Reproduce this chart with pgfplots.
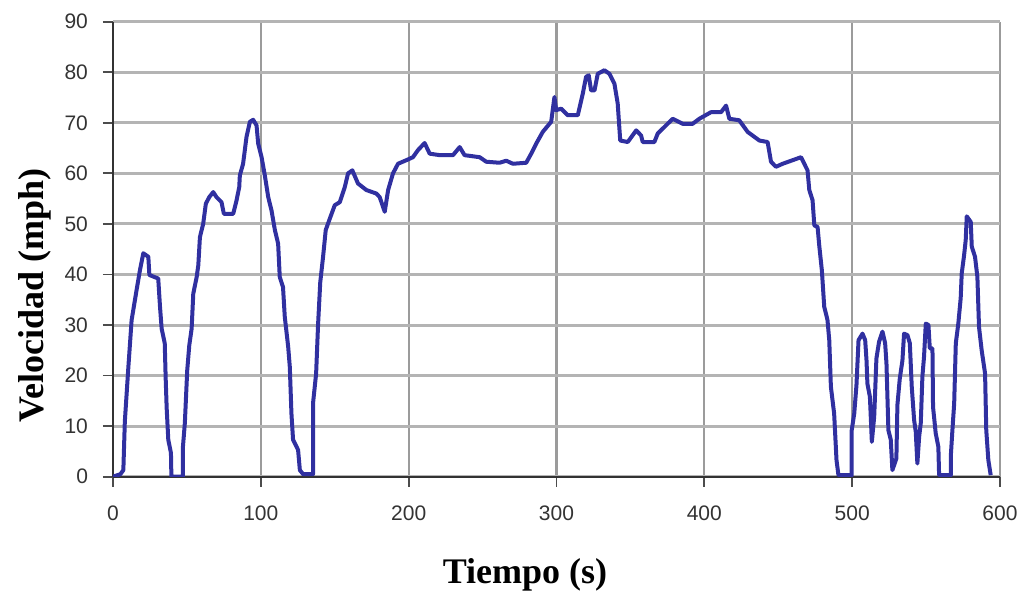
\documentclass[border=0pt]{standalone}
\usepackage{pgfplots}
\pgfplotsset{compat=1.18}
\usepackage{fontspec}
\setmainfont{Liberation Serif}
\newfontfamily\arial{Liberation Sans}
\definecolor{linecol}{RGB}{48,48,160}
\definecolor{hgridcol}{RGB}{180,180,180}
\definecolor{vgridcol}{RGB}{155,155,155}
\begin{document}
\begin{tikzpicture}
\begin{axis}[
  at={(0,0)}, anchor=south west,
  scale only axis,
  width=443.5pt, height=227.5pt,
  xmin=0, xmax=600, ymin=0, ymax=90,
  xtick={0,100,...,600}, ytick={0,10,...,90},
  axis lines=left,
  axis line style={-, black!80, line width=1.1pt},
  tick align=outside,
  major tick length=5pt,
  tick style={black!70, line width=0.9pt},
  grid=major,
  major x grid style={vgridcol, line width=1.1pt},
  major y grid style={hgridcol, line width=1.5pt},
  /pgf/number format/assume math mode=true,
  ticklabel style={font=\arial\fontsize{10.5}{12}\selectfont, text=black!80},
  yticklabel style={xshift=-4pt},
  xticklabel style={yshift=-6pt},
  xlabel={\bfseries Tiempo (s)},
  ylabel={\bfseries Velocidad (mph)},
  label style={font=\fontsize{18}{20}\selectfont},
  xlabel style={at={(axis description cs:0.4645,-0.216)}, anchor=center},
  ylabel style={at={(axis description cs:-0.0879,0.399)}, anchor=center, rotate=0},
]
\addplot[linecol, line width=2pt, line join=round] coordinates {
(0,0) (5,0.5) (7,1.3) (8,10.9) (10.4,21.7) (12.6,31) (16,37) (18.2,40.8) (20.5,44.2) (23.9,43.5) (24.6,39.9) (30.6,39.2) (31.8,33.6) (32.9,29.3) (35,26.4) (35.6,19.8) (36.3,13.6) (37.4,7.3) (39.2,4.7) (39.5,0) (47.2,0) (47.3,5.9) (48.6,10.6) (50.2,21) (51.6,26) (53.2,29.3) (54.3,36.2) (56.6,39.5) (57.7,41.8) (58.8,47.4) (61,50) (62.8,54) (65.1,55.3) (67.8,56.3) (70,55.3) (73.4,54.3) (75,52) (81.3,52) (83.6,54.7) (85.4,57.3) (85.8,59.6) (88,61.9) (90.3,67.2) (92.6,70.2) (94.8,70.6) (97.1,69.5) (98.2,65.9) (100.5,63.2) (102.7,59.6) (105,55.3) (107.2,52.7) (109.5,48.8) (111.7,46.1) (112.8,39.5) (115,37.5) (116.2,31.6) (118.5,25.7) (119.6,21.7) (120.7,12.5) (121.8,7.3) (125.2,5.3) (126.4,1.3) (128.6,0.5) (135.3,0.5) (135.3,14.5) (137.4,20.4) (138.7,30) (140.2,38.5) (142.1,43.5) (143.9,48.8) (147.1,51.4) (150,53.7) (153.4,54.3) (156.8,57.3) (159,60) (161.9,60.6) (165.7,58) (171.4,56.7) (178.2,56) (180.4,55.3) (183.8,52.4) (186.1,56.7) (189.4,60) (192.8,61.9) (198.4,62.6) (202.9,63.2) (206.3,64.6) (210.8,66) (214.2,63.9) (221,63.6) (230,63.6) (234.5,65.2) (237.8,63.6) (248,63.2) (252.5,62.3) (261.5,62.1) (266,62.5) (270.5,61.9) (279.5,62.1) (282.9,63.9) (286.3,65.9) (290.7,68.2) (296.4,70.2) (298.6,75.1) (299.8,72.5) (303.2,72.8) (307.6,71.5) (314.4,71.5) (317.8,75.8) (320,79.1) (321.8,79.4) (323.4,76.4) (325.7,76.4) (327.9,79.7) (332.4,80.4) (335.8,79.7) (339.2,77.7) (341.4,73.8) (343.1,66.5) (348.2,66.2) (353.9,68.5) (357.2,67.5) (358.3,66.2) (366.2,66.2) (368.5,67.9) (374.1,69.5) (378.6,70.8) (385.4,69.8) (392.1,69.8) (396.6,70.8) (404.5,72.1) (411.3,72.1) (414.7,73.4) (416.9,70.8) (423.6,70.5) (429.3,68.2) (437.2,66.5) (442.8,66.2) (445.1,62.3) (448.4,61.3) (453,61.9) (459.7,62.6) (465.4,63.2) (467.6,61.9) (469.8,60.6) (471,56.7) (473.2,54.7) (474.4,49.7) (476.6,49.4) (477.7,45.8) (479.5,40.8) (481.1,33.6) (483.3,31) (484.5,27) (485.6,17.8) (487.8,12.5) (489.4,3.3) (490.7,0.3) (499.7,0.3) (499.7,9.2) (501.4,12.5) (502.9,18.1) (504.3,27) (507,28.3) (508.8,27) (509.7,23) (510.3,18.4) (512,15.8) (513.3,6.9) (514.9,11.9) (516.4,23.4) (518.2,26.7) (520.5,28.7) (522.3,26.4) (523.2,22.4) (524.5,9.2) (526.1,7.3) (527.2,1.3) (529.9,3.6) (530.6,14.2) (532.2,19.4) (534,23) (535.1,28.3) (537.4,28) (539,26.4) (540.3,17.8) (541.9,11.2) (543,8.9) (544.1,2.6) (545.3,7.9) (546.4,10.6) (547.5,19.8) (548.6,23.7) (549.8,30.3) (551.6,30) (552.5,25.4) (554.3,25.4) (554.7,13.8) (556.5,8.6) (558.3,5.9) (558.8,0.3) (566.7,0.3) (566.7,4) (567.8,9.2) (569,14.5) (570.1,26.4) (571.8,30.3) (573.4,35.3) (574.1,40.2) (575.7,43.8) (576.8,46.8) (577.5,51.5) (580.2,50.4) (580.9,45.5) (583.1,43.5) (584.7,39.5) (585.8,29.6) (587.6,25) (589.9,20.4) (590.7,9.2) (592.1,3.3) (593.7,0.3)
};
\end{axis}
\pgfresetboundingbox
\path[use as bounding box] (-56.5pt,-59.15pt) rectangle (454pt,238.35pt);
\end{tikzpicture}
\end{document}
